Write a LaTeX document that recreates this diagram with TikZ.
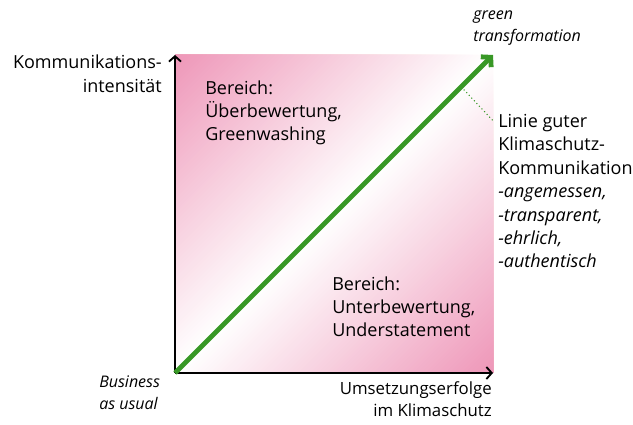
\documentclass[tikz,border=0pt]{standalone}
\usepackage{fontspec}
\setmainfont{Open Sans}
\usetikzlibrary{arrows.meta}

\definecolor{rosa}{RGB}{238,150,184}
\definecolor{gruen}{RGB}{56,152,38}

\tikzset{
	txt/.style={inner sep=0pt, align=left, font=\fontsize{13.5}{17.6}\selectfont},
	kursiv/.style={inner sep=0pt, align=left, font=\fontsize{12}{16.5}\selectfont\itshape},
	achse/.style={line width=1.4pt, -{Straight Barb[length=4pt,width=9pt]}},
	pfeil/.style={gruen, line width=3.6pt, -{Straight Barb[length=5pt,width=11pt]}},
}

\begin{document}
\begin{tikzpicture}[x=0.75pt,y=0.75pt]
\useasboundingbox (0,0) rectangle (633,425);
\def\s{318}
\def\n{80}

\coordinate (O) at (175,52);
\coordinate (E) at (175+\s,52+\s);
\coordinate (X) at (175+\s,52);
\coordinate (Y) at (175,52+\s);

% rosa Ecken, weiss zur Diagonale hin
\foreach \i in {0,...,\n} {
	\pgfmathsetmacro\c{\i/\n*\s}
	\pgfmathsetmacro\p{\i/\n*100}
	\fill[rosa!\p!white] (175,52+\c) -- (Y) -- (175+\s-\c,52+\s) -- cycle;
	\fill[rosa!\p!white] (175+\c,52) -- (X) -- (175+\s,52+\s-\c) -- cycle;
};

% Achsen
\draw[achse] (O) -- (Y);
\draw[achse] (O) -- (X);

% Linie guter Kommunikation
\draw[pfeil] (O) -- (E);
\coordinate (D) at (175+0.9*\s,52+0.9*\s);

% base = Grundlinie der letzten Zeile
\node[txt, anchor=base east, align=right, font=\fontsize{13.5}{18.6}\selectfont] (ylab) at (162,332) {Kommunikations-\\intensität};
\node[txt, anchor=base east, align=right, font=\fontsize{12.6}{16.5}\selectfont] (xlab) at (492,8) {Umsetzungserfolge\\im Klimaschutz};
\node[kursiv, anchor=base west] (bau) at (99,15) {Business\\as usual};
\node[kursiv, anchor=base west] (gt) at (473,383) {green\\transformation};

\node[txt, anchor=base west] (ueber) at (205,284) {Bereich:\\Überbewertung,\\Greenwashing};
\node[txt, anchor=base west] (unter) at (332,88) {Bereich:\\Unterbewertung,\\Understatement};

\node[txt, anchor=base west] (linie) at (498,157) {Linie guter\\Klimaschutz-\\Kommunikation\\\textit{-angemessen,}\\\textit{-transparent,}\\\textit{-ehrlich,}\\\textit{-authentisch}};

\draw[gruen, dotted, line width=0.8pt] (D) -- ([shift={(-4pt,-5pt)}]linie.north west);
\end{tikzpicture}
\end{document}
